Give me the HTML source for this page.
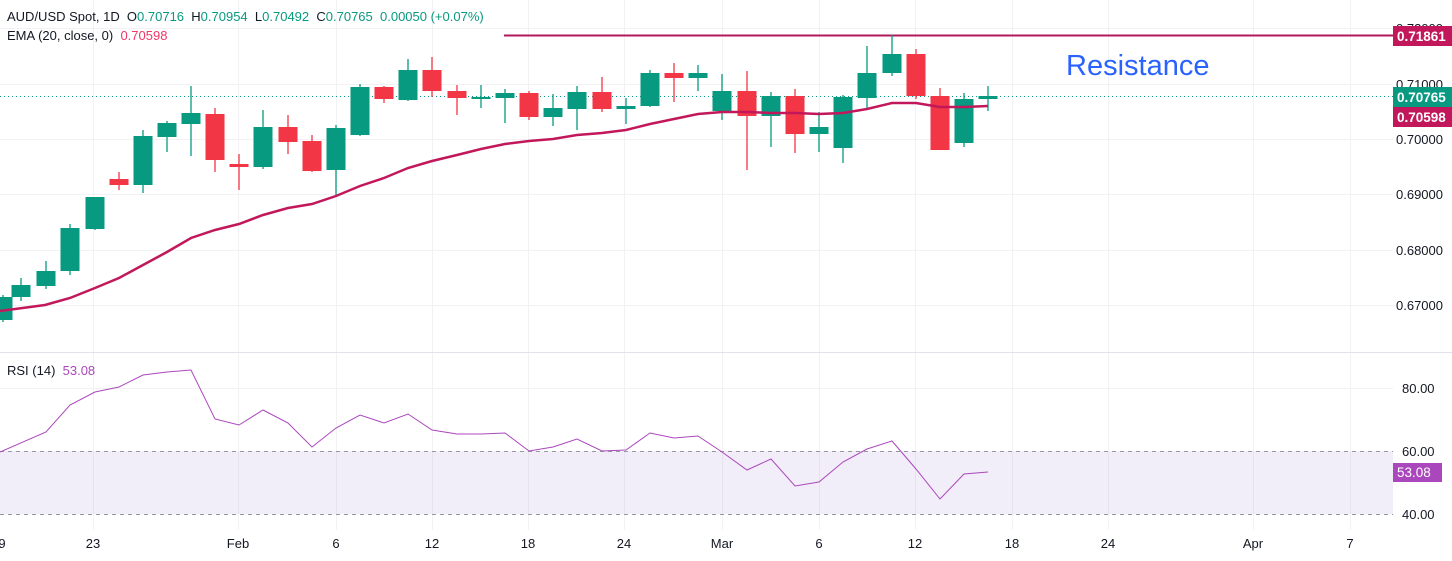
<!DOCTYPE html>
<html><head><meta charset="utf-8"><style>
body{margin:0;background:#fff;width:1452px;height:556px;overflow:hidden;font-family:"Liberation Sans",sans-serif}
svg text{font-family:"Liberation Sans",sans-serif}
</style></head><body>
<svg width="1452" height="556" viewBox="0 0 1452 556" xmlns="http://www.w3.org/2000/svg">
<g stroke="#f2f2f4" stroke-width="1">
<line x1="0" x2="1393" y1="28.5" y2="28.5"/><line x1="0" x2="1393" y1="84.5" y2="84.5"/><line x1="0" x2="1393" y1="139.5" y2="139.5"/><line x1="0" x2="1393" y1="194.5" y2="194.5"/><line x1="0" x2="1393" y1="250.5" y2="250.5"/><line x1="0" x2="1393" y1="305.5" y2="305.5"/>
<line x1="0" x2="1393" y1="388.5" y2="388.5"/>
<line x1="93.5" x2="93.5" y1="0" y2="530"/><line x1="238.5" x2="238.5" y1="0" y2="530"/><line x1="336.5" x2="336.5" y1="0" y2="530"/><line x1="432.5" x2="432.5" y1="0" y2="530"/><line x1="528.5" x2="528.5" y1="0" y2="530"/><line x1="624.5" x2="624.5" y1="0" y2="530"/><line x1="722.5" x2="722.5" y1="0" y2="530"/><line x1="819.5" x2="819.5" y1="0" y2="530"/><line x1="915.5" x2="915.5" y1="0" y2="530"/><line x1="1012.5" x2="1012.5" y1="0" y2="530"/><line x1="1108.5" x2="1108.5" y1="0" y2="530"/><line x1="1253.5" x2="1253.5" y1="0" y2="530"/><line x1="1350.5" x2="1350.5" y1="0" y2="530"/>
</g>
<line x1="0" x2="1452" y1="352.5" y2="352.5" stroke="#e0e3eb"/>
<line x1="0" x2="1393" y1="96.5" y2="96.5" stroke="#089981" stroke-dasharray="1,3"/>
<line x1="504" x2="1393" y1="35.5" y2="35.5" stroke="#b2185b" stroke-width="2"/>
<text x="1066" y="75" font-size="29" fill="#2962ff">Resistance</text>
<g id="c"></g>
<polyline fill="none" stroke="#c2185b" stroke-width="2.5" points="0,311 45,305 70,298 95,288 119,278 143,265 167,252 191,238 215,230 239,224 263,215 288,208 312,204 336,196 360,186 384,178 408,168 432,161 457,155 481,149 505,144 529,141 553,139 577,135 602,133 626,130 650,124 674,119 698,114 722,112 747,112 771,113 795,113 819,114 843,113 867,109 892,103 916,103 940,107 964,107 988,106"/>
<rect x="0" y="451" width="1393" height="63" fill="#7e57c2" fill-opacity="0.1"/>
<line x1="0" x2="1393" y1="451.5" y2="451.5" stroke="#9598a1" stroke-dasharray="4,4"/>
<line x1="0" x2="1393" y1="514.5" y2="514.5" stroke="#9598a1" stroke-dasharray="4,4"/>
<polyline fill="none" stroke="#ab47bc" stroke-width="1" points="0,452 46,432 70,405 95,392 119,387 143,375 167,372 191,370 215,419 239,425 263,410 288,423 312,447 336,428 360,415 384,423 408,414 432,430 457,434 481,434 505,433 529,451 553,447 577,439 602,451 626,450 650,433 674,438 698,436 722,452 747,470 771,459 795,486 819,482 843,462 867,449 892,441 916,469 940,499 964,474 988,472"/>
<g font-size="13" fill="#131722">
<text x="1396" y="33">0.72000</text><text x="1396" y="89">0.71000</text><text x="1396" y="144">0.70000</text><text x="1396" y="199">0.69000</text><text x="1396" y="255">0.68000</text><text x="1396" y="310">0.67000</text>
<text x="1402" y="393">80.00</text><text x="1402" y="456">60.00</text><text x="1402" y="519">40.00</text>
</g>
<rect x="1393" y="26" width="59" height="20" fill="#c2185b"/><text x="1397" y="41" font-size="13.5" fill="#fff" font-weight="bold">0.71861</text>
<rect x="1393" y="87" width="59" height="20" fill="#089981"/><text x="1397" y="102" font-size="13.5" fill="#fff" font-weight="bold">0.70765</text>
<rect x="1393" y="107" width="59" height="20" fill="#c2185b"/><text x="1397" y="122" font-size="13.5" fill="#fff" font-weight="bold">0.70598</text>
<rect x="1393" y="463" width="49" height="19" fill="#ab47bc"/><text x="1397" y="477" font-size="13.5" fill="#fff">53.08</text>
<g font-size="13" fill="#131722" text-anchor="middle">
<text x="2" y="548">9</text><text x="93" y="548">23</text><text x="238" y="548">Feb</text><text x="336" y="548">6</text><text x="432" y="548">12</text><text x="528" y="548">18</text><text x="624" y="548">24</text><text x="722" y="548">Mar</text><text x="819" y="548">6</text><text x="915" y="548">12</text><text x="1012" y="548">18</text><text x="1108" y="548">24</text><text x="1253" y="548">Apr</text><text x="1350" y="548">7</text>
</g>
<g font-size="13">
<text x="7" y="21" fill="#131722">AUD/USD Spot, 1D&#160;&#160;O<tspan fill="#089981">0.70716</tspan>&#160;&#160;H<tspan fill="#089981">0.70954</tspan>&#160;&#160;L<tspan fill="#089981">0.70492</tspan>&#160;&#160;C<tspan fill="#089981">0.70765</tspan>&#160;&#160;<tspan fill="#089981">0.00050 (+0.07%)</tspan></text>
<text x="7" y="40" fill="#131722">EMA (20, close, 0)&#160;&#160;<tspan fill="#f23668">0.70598</tspan></text>
<text x="7" y="375" fill="#131722">RSI (14)&#160;&#160;<tspan fill="#ab47bc">53.08</tspan></text>
</g>
</svg>
<script>
var d=[[3,320,297,295,322],[21,297,285,278,301],[46,286,271,261,289],[70,271,228,224,275],[95,229,197,197,230],[119,179,185,172,190],[143,185,136,130,193],[167,137,123,121,152],[191,124,113,86,156],[215,114,160,108,172],[239,164,167,154,190],[263,167,127,110,169],[288,127,142,115,154],[312,141,171,135,172],[336,170,128,125,196],[360,135,87,84,136],[384,87,99,86,103],[408,100,70,59,101],[432,70,91,57,97],[457,91,98,85,115],[481,99,97,85,108],[505,98,93,89,123],[529,93,117,91,120],[553,117,108,94,126],[577,109,92,86,130],[602,92,109,77,112],[626,109,106,98,124],[650,106,73,70,107],[674,73,78,63,102],[698,78,73,65,91],[722,111,91,74,120],[747,91,116,71,170],[771,116,96,92,147],[795,96,134,89,153],[819,134,127,112,152],[843,148,97,95,163],[867,98,73,46,109],[892,73,54,35,76],[916,54,96,49,99],[940,96,150,88,150],[964,143,99,93,147],[988,99,96,86,111]];
var g=document.getElementById('c'),s='';
d.forEach(function(a){var x=a[0],o=a[1],c=a[2],col=c<=o?'#089981':'#f23645';var t=Math.min(o,c),h=Math.max(Math.abs(o-c),2);
s+='<line x1="'+x+'" x2="'+x+'" y1="'+a[3]+'" y2="'+a[4]+'" stroke="'+col+'" stroke-width="1.3"/><rect x="'+(x-9.5)+'" y="'+t+'" width="19" height="'+h+'" fill="'+col+'"/>';});
g.innerHTML=s;
</script>
</body></html>
